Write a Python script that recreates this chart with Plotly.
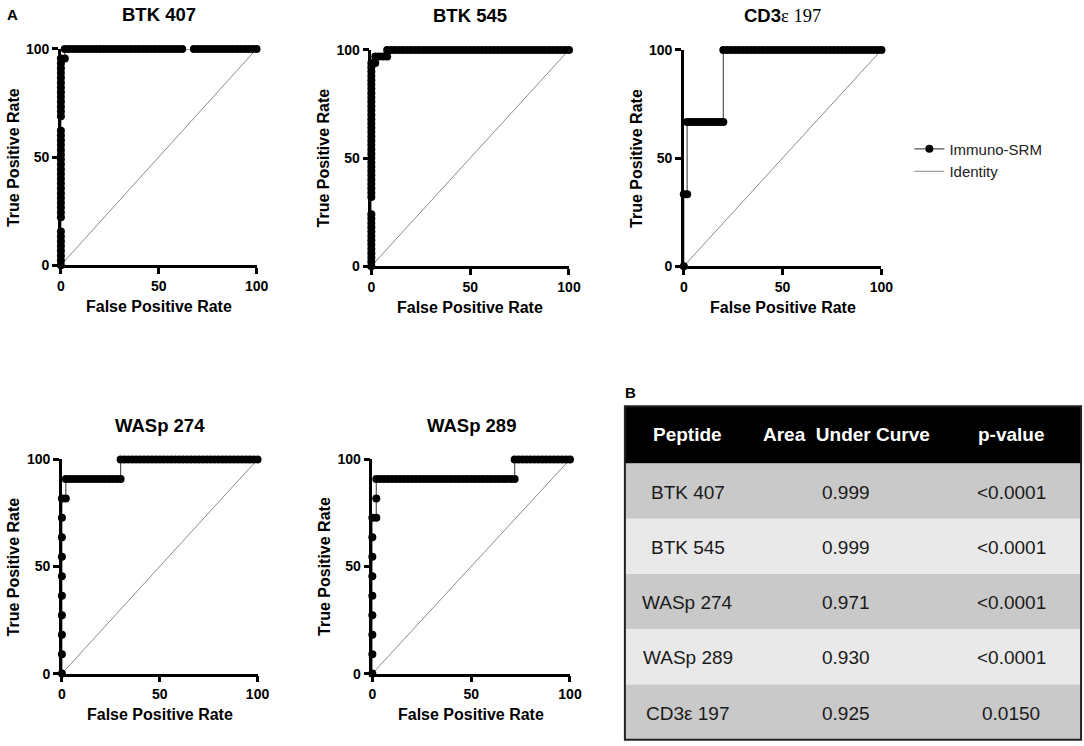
import plotly.graph_objects as go

W, H = 1084, 746
SANS = "Liberation Sans, Arial, sans-serif"

# ROC points, in percent.
# *_zero: TPR values of the points sitting on the y axis (FPR = 0)
# *_levels: each later TPR level with the FPR values of its points
btk407_zero = [0, 2.2, 4.4, 6.7, 8.9, 11.1, 13.3, 15.6, 22.2, 24.4, 26.7, 28.9,
               31.1, 33.3, 35.6, 37.8, 40, 42.2, 44.4, 46.7, 48.9, 51.1, 53.3,
               55.6, 57.8, 60, 62.2, 68.9, 71.1, 73.3, 75.6, 77.8, 80, 82.2,
               84.4, 86.7, 88.9, 91.1, 93.3, 95.6]
btk407_levels = [
    (95.6, [2]),
    (100, [2, 4, 6, 8, 10, 12, 14, 16, 18, 20, 22, 24, 26, 28, 30, 32, 34, 36,
           38, 40, 42, 44, 46, 48, 50, 52, 54, 56, 58, 60, 62, 68, 70, 72, 74,
           76, 78, 80, 82, 84, 86, 88, 90, 92, 94, 96, 98, 100]),
]

btk545_zero = [0, 2, 4, 6, 8, 10, 12, 14, 16, 18, 20, 22, 24, 32, 34, 36, 38,
               40, 42, 44, 46, 48, 50, 52, 54, 56, 58, 60, 62, 64, 66, 68, 70,
               72, 74, 76, 78, 80, 82, 84, 86, 88, 90, 92, 94]
btk545_levels = [
    (94, [2]),
    (97, [2, 4, 6, 8]),
    (100, [8, 10, 12, 14, 16, 18, 20, 22, 24, 26, 28, 30, 32, 34, 36, 38, 40,
           42, 44, 46, 48, 50, 52, 54, 56, 58, 60, 62, 64, 66, 68, 70, 72, 74,
           76, 78, 80, 82, 84, 86, 88, 90, 92, 94, 96, 98, 100]),
]

cd3_zero = [0, 33.3]
cd3_levels = [
    (33.3, [1.7]),
    (66.7, [1.7, 3.3, 5, 6.7, 8.3, 10, 11.7, 13.3, 15, 16.7, 18.3, 20]),
    (100, [20, 22, 24, 26, 28, 30, 32, 34, 36, 38, 40, 42, 44, 46, 48, 50, 52,
           54, 56, 58, 60, 62, 64, 66, 68, 70, 72, 74, 76, 78, 80, 82, 84, 86,
           88, 90, 92, 94, 96, 98, 100]),
]

wasp274_zero = [0, 9.1, 18.2, 27.3, 36.4, 45.5, 54.5, 63.6, 72.7, 81.8]
wasp274_levels = [
    (81.8, [2]),
    (90.9, [2, 4, 6, 8, 10, 12, 14, 16, 18, 20, 22, 24, 26, 28, 30]),
    (100, [30, 32, 34, 36, 38, 40, 42, 44, 46, 48, 50, 52, 54, 56, 58, 60, 62,
           64, 66, 68, 70, 72, 74, 76, 78, 80, 82, 84, 86, 88, 90, 92, 94, 96,
           98, 100]),
]

wasp289_zero = [0, 9.1, 18.2, 27.3, 36.4, 45.5, 54.5, 63.6, 72.7]
wasp289_levels = [
    (72.7, [2]),
    (81.8, [2]),
    (90.9, [2, 4, 6, 8, 10, 12, 14, 16, 18, 20, 22, 24, 26, 28, 30, 32, 34, 36,
            38, 40, 42, 44, 46, 48, 50, 52, 54, 56, 58, 60, 62, 64, 66, 68, 70,
            72]),
    (100, [72, 74, 76, 78, 80, 82, 84, 86, 88, 90, 92, 94, 96, 98, 100]),
]

identity = [0, 100]
axis_ticks = [0, 50, 100]

# table (panel B)
peptides = ["BTK 407", "BTK 545", "WASp 274", "WASp 289", "CD3\u03b5 197"]
auc_values = ["0.999", "0.999", "0.971", "0.930", "0.925"]
p_values = ["<0.0001", "<0.0001", "<0.0001", "<0.0001", "0.0150"]
table_header = ["Peptide", "Area  Under Curve", "p-value"]

# the photographed page comes out slightly shrunk and shifted;
# these undo that so positions below are in picture pixels
SX, OX = 0.987, 3.0
SY, OY = 0.9775, 7.1


def px(x):
    return (x - OX) / SX / W


def py(y):
    return 1 - (y - OY) / SY / H


def roc_points(zero, levels):
    xs = [0 for _ in zero]
    ys = list(zero)
    for level, fprs in levels:
        xs += fprs
        ys += [level for _ in fprs]
    return xs, ys


# title, data, picture pixel box (left, right, top, bottom)
panels = [
    ("<b>BTK 407</b>", btk407_zero, btk407_levels, (60, 256, 48, 264)),
    ("<b>BTK 545</b>", btk545_zero, btk545_levels, (371, 569, 49, 265)),
    ("<b>CD3</b><span style=\"font-family:Liberation Serif\">\u03b5 197</span>",
     cd3_zero, cd3_levels, (684, 882, 49, 265)),
    ("<b>WASp 274</b>", wasp274_zero, wasp274_levels, (61, 257, 458, 672)),
    ("<b>WASp 289</b>", wasp289_zero, wasp289_levels, (372, 570, 458, 672)),
]

fig = go.Figure()
annotations = []
shapes = []

axis_style = dict(
    range=[0, 100], tickvals=axis_ticks, showgrid=False, zeroline=False,
    showline=True, linewidth=2.5, linecolor="black",
    ticks="outside", ticklen=6, tickwidth=2.5, tickcolor="black",
    tickfont=dict(family=SANS, size=14, color="black", weight="bold"),
    fixedrange=True,
)

for i, (title, zero, levels, box) in enumerate(panels, start=1):
    left, right, top, bottom = box
    sfx = "" if i == 1 else str(i)
    fpr, tpr = roc_points(zero, levels)

    fig.add_trace(go.Scatter(
        x=identity, y=identity, mode="lines", name="Identity",
        line=dict(color="#8a8a8a", width=1), legendrank=2,
        showlegend=(i == 1), xaxis="x" + sfx, yaxis="y" + sfx,
    ))
    fig.add_trace(go.Scatter(
        x=fpr, y=tpr, mode="lines+markers", name="Immuno-SRM",
        line=dict(color="#555555", width=1.2),
        marker=dict(color="black", size=8), legendrank=1,
        cliponaxis=False, showlegend=(i == 1),
        xaxis="x" + sfx, yaxis="y" + sfx,
    ))

    fig.update_layout(**{
        "xaxis" + sfx: dict(axis_style, domain=[px(left), px(right)],
                            anchor="y" + sfx),
        "yaxis" + sfx: dict(axis_style, domain=[py(bottom), py(top)],
                            anchor="x" + sfx),
    })

    cx = (left + right) / 2
    annotations.append(dict(
        text=title, x=px(cx), y=py(top - 34), xref="paper", yref="paper",
        showarrow=False, xanchor="center", yanchor="middle",
        font=dict(family=SANS, size=18.5, color="black"),
    ))
    annotations.append(dict(
        text="<b>False Positive Rate</b>", x=px(cx), y=py(bottom + 41),
        xref="paper", yref="paper", showarrow=False,
        xanchor="center", yanchor="middle",
        font=dict(family=SANS, size=16, color="black"),
    ))
    annotations.append(dict(
        text="<b>True Positive Rate</b>", x=px(left - 48),
        y=py((top + bottom) / 2), xref="paper", yref="paper",
        showarrow=False, textangle=-90, xanchor="center", yanchor="middle",
        font=dict(family=SANS, size=16, color="black"),
    ))

# panel letters
annotations.append(dict(text="<b>A</b>", x=px(12), y=py(14), xref="paper",
                        yref="paper", showarrow=False,
                        xanchor="center", yanchor="middle",
                        font=dict(family=SANS, size=15, color="black")))
annotations.append(dict(text="<b>B</b>", x=px(631), y=py(391), xref="paper",
                        yref="paper", showarrow=False,
                        xanchor="center", yanchor="middle",
                        font=dict(family=SANS, size=15, color="black")))

# table drawn with rectangles and text
col_edges = [625, 752, 942, 1082]
col_centers = [688, 847, 1012]
head_top, head_bottom = 405, 462
row_h = 55.2

shapes.append(dict(type="rect", xref="paper", yref="paper",
                   x0=px(col_edges[0]), x1=px(col_edges[-1]),
                   y0=py(head_bottom), y1=py(head_top),
                   fillcolor="black", line=dict(width=0), layer="below"))
for c, label in enumerate(table_header):
    annotations.append(dict(
        text="<b>" + label + "</b>", x=px(col_centers[c]),
        y=py((head_top + head_bottom) / 2), xref="paper", yref="paper",
        showarrow=False, xanchor="center", yanchor="middle",
        font=dict(family=SANS, size=19, color="white"),
    ))

for r, row in enumerate(zip(peptides, auc_values, p_values)):
    y0 = head_bottom + r * row_h
    y1 = y0 + row_h
    shapes.append(dict(type="rect", xref="paper", yref="paper",
                       x0=px(col_edges[0]), x1=px(col_edges[-1]),
                       y0=py(y1), y1=py(y0),
                       fillcolor="#c9c9c9" if r % 2 == 0 else "#e9e9e9",
                       line=dict(width=0), layer="below"))
    for c, val in enumerate(row):
        annotations.append(dict(
            text=val, x=px(col_centers[c]), y=py((y0 + y1) / 2 + 1),
            xref="paper", yref="paper", showarrow=False,
            xanchor="center", yanchor="middle",
            font=dict(family=SANS, size=19, color="#1a1a1a"),
        ))

shapes.append(dict(type="rect", xref="paper", yref="paper",
                   x0=px(col_edges[0]), x1=px(col_edges[-1]),
                   y0=py(head_bottom + 5 * row_h), y1=py(head_top),
                   line=dict(color="#222222", width=2), fillcolor="rgba(0,0,0,0)"))

fig.update_layout(
    width=W, height=H,
    margin=dict(l=0, r=0, t=0, b=0),
    paper_bgcolor="white", plot_bgcolor="white",
    font=dict(family=SANS, color="black"),
    annotations=annotations,
    shapes=shapes,
    legend=dict(x=px(910), y=py(159), xanchor="left", yanchor="middle",
                font=dict(family=SANS, size=15, color="#222222"),
                itemwidth=30, bgcolor="rgba(0,0,0,0)", tracegroupgap=4),
)

# drop the default body margin so the figure fills the window exactly
fig.write_html("out.html", config={"displayModeBar": False},
               post_script="document.body.style.margin='0px';")
